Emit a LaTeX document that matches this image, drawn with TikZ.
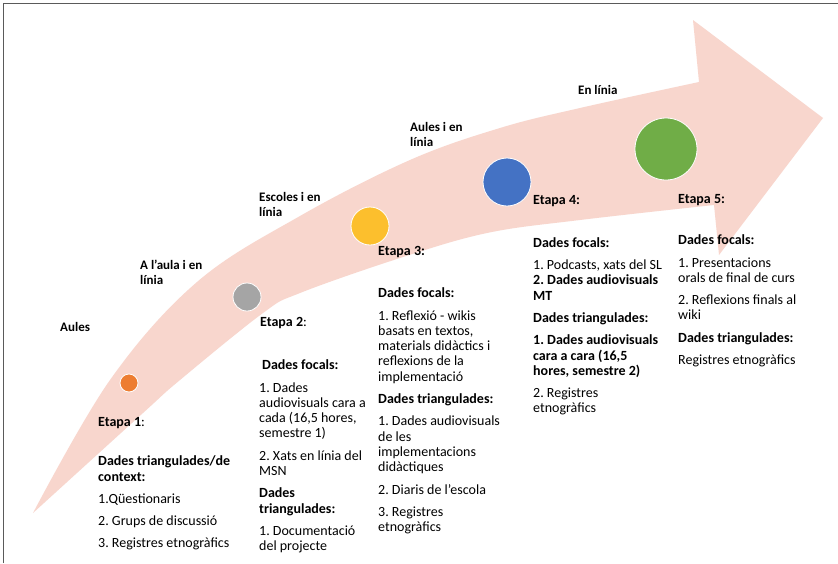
\documentclass[tikz,border=0pt]{standalone}
\usepackage{fontspec}
\setmainfont{Carlito}
\frenchspacing
\definecolor{arrowpink}{RGB}{248,214,205}
\definecolor{frameline}{RGB}{90,90,90}
\definecolor{c1col}{RGB}{237,125,49}
\definecolor{c2col}{RGB}{165,165,165}
\definecolor{c3col}{RGB}{252,191,45}
\definecolor{c4col}{RGB}{68,114,196}
\definecolor{c5col}{RGB}{112,173,71}
\begin{document}
\begin{tikzpicture}[x=1pt,y=-1pt,
  lbl/.style={font=\fontsize{13}{14.5}\selectfont\bfseries, align=left, inner sep=0pt},
  head/.style={font=\fontsize{14}{15.3}\selectfont\bfseries, anchor=base west, inner sep=0pt},
  body/.style={font=\fontsize{14}{15.3}\selectfont, align=left, anchor=north west, inner sep=0pt},
  dot/.style={circle, draw=white, line width=0.8pt, inner sep=0pt}
]
\useasboundingbox (0,0) rectangle (838,563);
\fill[white] (0,0) rectangle (838,563);
% frame (top and left edges)
\draw[frameline, line width=1.6pt] (3.3,563) -- (3.3,3.3) -- (838,3.3);

% big curved arrow
\fill[arrowpink]
  plot[smooth, tension=0.6] coordinates {(33,513) (110,380) (197,282) (300,216) (410,160) (500,128) (580,108) (699,82)}
  -- (693,20) -- (823,118) -- (719,255)
  -- plot[smooth, tension=0.6] coordinates {(714,205) (580,220) (487,233) (400,258) (300,293) (263,313) (180,380) (143,413) (33,513)}
  -- cycle;

% circles
\node[dot, fill=c1col, minimum size=18pt] (c1) at (129,383) {};
\node[dot, fill=c2col, minimum size=28pt] (c2) at (247,297) {};
\node[dot, fill=c3col, minimum size=38pt] (c3) at (370,226) {};
\node[dot, fill=c4col, minimum size=48pt] (c4) at (507,182) {};
\node[dot, fill=c5col, minimum size=62pt] (c5) at (666,149) {};

% setting labels
\node[lbl, anchor=base west] (l1) at (60,331.5) {Aules};
\node[lbl, anchor=north west] (l2) at (140,258.3) {\rule{0pt}{11pt}A l’aula i en\\línia};
\node[lbl, anchor=north west] (l3) at (259,190.5) {\rule{0pt}{11pt}Escoles i en\\línia};
\node[lbl, anchor=north west] (l4) at (410,120.5) {\rule{0pt}{11pt}Aules i en\\línia};
\node[lbl, anchor=base west] (l5) at (578,94.5) {En línia};

% stage headings
\node[head] (e1) at (98,426.5) {Etapa 1\textmd{:}};
\node[head] (e2) at (260,326.5) {Etapa 2\textmd{:}};
\node[head] (e3) at (378,255.5) {Etapa 3:};
\node[head] (e4) at (533,204) {Etapa 4:};
\node[head] (e5) at (678,203) {Etapa 5:};

% stage contents
\node[body] (t1) at (98,453.5) {\rule{0pt}{12pt}\textbf{Dades triangulades/de}\\
  \textbf{context:}\\[7pt]
  1.Qüestionaris\\[7pt]
  2. Grups de discussió\\[7pt]
  3. Registres etnogràfics};

\node[body] (t2) at (259,357.5) {\rule{0pt}{12pt}\hspace{3pt}\textbf{Dades focals:}\\[7pt]
  1. Dades\\
  audiovisuals cara a\\
  cada (16,5 hores,\\
  semestre 1)\\[7pt]
  2. Xats en línia del\\
  MSN\\[7pt]
  \textbf{Dades}\\
  \textbf{triangulades:}\\[7pt]
  1. Documentació\\
  del projecte};

\node[body] (t3) at (378,285.5) {\rule{0pt}{12pt}\textbf{Dades focals:}\\[7pt]
  1. Reflexió - wikis\\
  basats en textos,\\
  materials didàctics i\\
  reflexions de la\\
  implementació\\[7pt]
  \textbf{Dades triangulades:}\\[7pt]
  1. Dades audiovisuals\\
  de les\\
  implementacions\\
  didàctiques\\[7pt]
  2. Diaris de l’escola\\[7pt]
  3. Registres\\
  etnogràfics};

\node[body] (t4) at (533,235) {\rule{0pt}{12pt}\textbf{Dades focals:}\\[7pt]
  1. Podcasts, xats del SL\\
  \textbf{2. Dades audiovisuals}\\
  \textbf{MT}\\[7pt]
  \textbf{Dades triangulades:}\\[7pt]
  \textbf{1. Dades audiovisuals}\\
  \textbf{cara a cara (16,5}\\
  \textbf{hores, semestre 2)}\\[7pt]
  2. Registres\\
  etnogràfics};

\node[body] (t5) at (678,232.5) {\rule{0pt}{12pt}\textbf{Dades focals:}\\[7pt]
  1. Presentacions\\
  orals de final de curs\\[7pt]
  2. Reflexions finals al\\
  wiki\\[7pt]
  \textbf{Dades triangulades:}\\[7pt]
  Registres etnogràfics};
\end{tikzpicture}
\end{document}
